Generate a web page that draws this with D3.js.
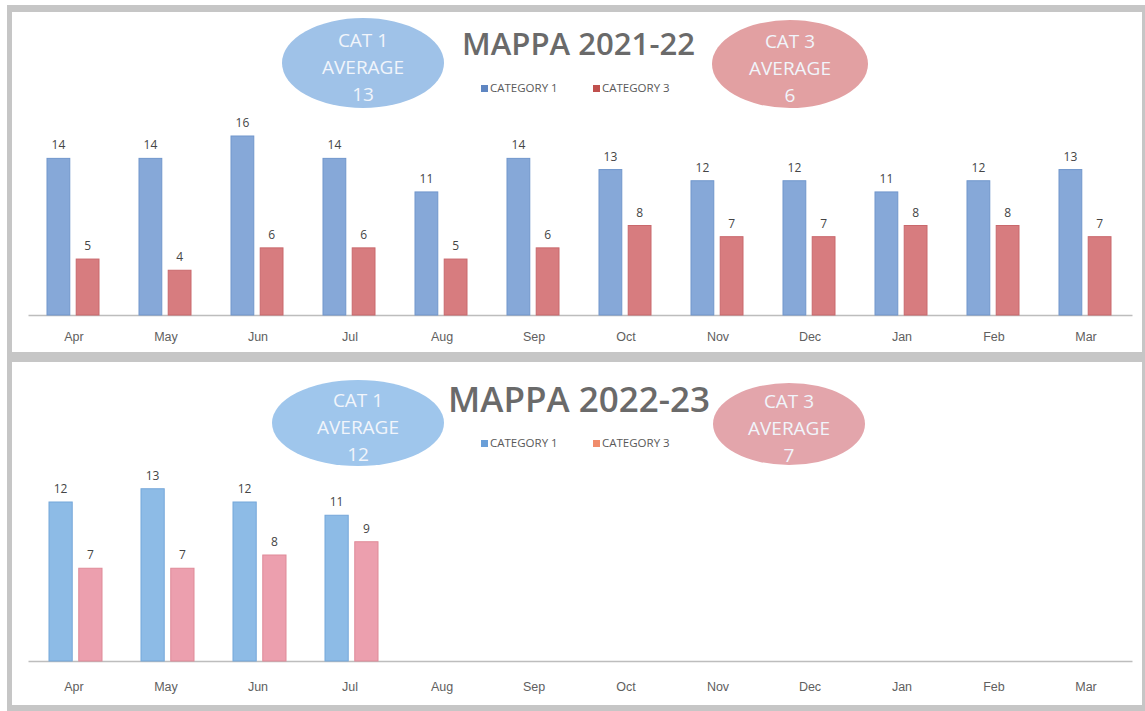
<!DOCTYPE html>
<html>
<head>
<meta charset="utf-8">
<script src="https://cdn.jsdelivr.net/npm/d3@7"></script>
<style>
  html, body { margin: 0; padding: 0; background: #fff; }
  svg { display: block; font-family: "Open Sans", "Noto Sans", sans-serif; }
</style>
</head>
<body>
<svg id="vis" width="1145" height="711"></svg>
<script>
// chart data
const months = ["Apr", "May", "Jun", "Jul", "Aug", "Sep", "Oct", "Nov", "Dec", "Jan", "Feb", "Mar"];
const series = ["CATEGORY 1", "CATEGORY 3"];

const cat1_2122 = [14, 14, 16, 14, 11, 14, 13, 12, 12, 11, 12, 13];
const cat3_2122 = [5, 4, 6, 6, 5, 6, 8, 7, 7, 8, 8, 7];
const avg_2122 = [13, 6];

const cat1_2223 = [12, 13, 12, 11];
const cat3_2223 = [7, 7, 8, 9];
const avg_2223 = [12, 7];

const svg = d3.select('#vis');
const WIDTH = 1145;
const HEIGHT = 711;

// grey frame behind both panels
svg.append("rect").attr("x", 0).attr("y", 0).attr("width", WIDTH).attr("height", HEIGHT).attr("fill", "#fff");
svg.append("rect").attr("x", 7).attr("y", 5).attr("width", WIDTH - 7).attr("height", HEIGHT - 5).attr("fill", "#c6c6c6");
svg.append("rect").attr("x", 12).attr("y", 12).attr("width", 1130).attr("height", 340).attr("fill", "#fff");
svg.append("rect").attr("x", 12).attr("y", 362).attr("width", 1130).attr("height", 343).attr("fill", "#fff");

function panel(opts) {
    var g = svg.append("g");

    var x = d3.scaleBand()
        .domain(months)
        .range([28, 1132]);

    var x1 = d3.scaleBand()
        .domain(series)
        .range(opts.sub)
        .paddingInner(0.22);

    var y = d3.scaleLinear()
        .domain([0, opts.max])
        .range([opts.base, opts.top]);

    // axis line + month labels
    var axis = g.append("g")
        .attr("transform", "translate(0," + opts.base + ")")
        .call(d3.axisBottom(x).tickSize(0).tickPadding(opts.pad));
    axis.select(".domain").attr("stroke", "#bdbdbd").attr("stroke-width", 1.5);
    axis.selectAll("text")
        .attr("fill", "#606060")
        .style("font-size", "12.5px");

    var rows = [];
    opts.c1.forEach(function (v, i) {
        rows.push({ m: months[i], s: series[0], v: v });
    });
    opts.c3.forEach(function (v, i) {
        rows.push({ m: months[i], s: series[1], v: v });
    });

    g.selectAll(".bar")
        .data(rows)
        .enter().append("rect")
        .attr("class", "bar")
        .attr("x", function (d) { return x(d.m) + x.bandwidth() / 2 + x1(d.s); })
        .attr("y", function (d) { return y(d.v); })
        .attr("width", x1.bandwidth())
        .attr("height", function (d) { return y(0) - y(d.v); })
        .attr("fill", function (d) { return d.s === series[0] ? opts.fill[0] : opts.fill[1]; })
        .attr("stroke", function (d) { return d.s === series[0] ? opts.edge[0] : opts.edge[1]; })
        .attr("stroke-width", 1);

    g.selectAll(".val")
        .data(rows)
        .enter().append("text")
        .attr("class", "val")
        .attr("x", function (d) { return x(d.m) + x.bandwidth() / 2 + x1(d.s) + x1.bandwidth() / 2; })
        .attr("y", function (d) { return y(d.v) - 9; })
        .attr("text-anchor", "middle")
        .attr("fill", "#454545")
        .style("font-size", "12px")
        .text(function (d) { return d.v; });

    // title
    g.append("text")
        .attr("x", opts.title[1])
        .attr("y", opts.title[2])
        .attr("textLength", opts.title[3])
        .attr("lengthAdjust", "spacingAndGlyphs")
        .attr("fill", "#6a6a6a")
        .style("font-size", opts.title[4] + "px")
        .style("font-weight", "600")
        .text(opts.title[0]);

    // legend
    var leg = g.append("g").attr("transform", "translate(" + opts.legend[0] + "," + opts.legend[1] + ")");
    series.forEach(function (s, i) {
        var lx = i * 112;
        leg.append("rect")
            .attr("x", lx).attr("y", -7)
            .attr("width", 7).attr("height", 7)
            .attr("fill", opts.key[i]);
        leg.append("text")
            .attr("x", lx + 9).attr("y", 0)
            .attr("fill", "#595959")
            .style("font-size", "11.5px")
            .text(s);
    });

    // average bubbles
    opts.bubbles.forEach(function (b, i) {
        g.append("ellipse")
            .attr("cx", b[0]).attr("cy", b[1])
            .attr("rx", b[2]).attr("ry", b[3])
            .attr("fill", opts.bubbleFill[i]);
        var lines = [i === 0 ? "CAT 1" : "CAT 3", "AVERAGE", String(opts.avg[i])];
        lines.forEach(function (t, j) {
            g.append("text")
                .attr("x", b[0])
                .attr("y", b[1] - 16 + j * 27)
                .attr("text-anchor", "middle")
                .attr("fill", "#f1f5fb")
                .style("font-size", "19px")
                .text(t);
        });
    });
}

panel({
    c1: cat1_2122, c3: cat3_2122, avg: avg_2122,
    max: 16, base: 315, top: 136, pad: 17,
    sub: [-27, 25],
    fill: ["#86a8d8", "#d77c7f"],
    edge: ["#7096cc", "#c9686c"],
    key: ["#5f86c2", "#c0504d"],
    title: ["MAPPA 2021-22", 462, 55, 233, 31],
    legend: [481, 92],
    bubbles: [[363, 63, 81, 45], [790, 64, 78, 44]],
    bubbleFill: ["#9fc2e8", "#e2a0a2"]
});

panel({
    c1: cat1_2223, c3: cat3_2223, avg: avg_2223,
    max: 13, base: 661, top: 488.75, pad: 21,
    sub: [-25, 28],
    fill: ["#8dbbe6", "#ec9fae"],
    edge: ["#75a7d9", "#df8a98"],
    key: ["#6a9fd8", "#f08c6c"],
    title: ["MAPPA 2022-23", 448, 412, 262, 34],
    legend: [481, 447],
    bubbles: [[358, 423, 86, 43], [789, 424, 76, 41]],
    bubbleFill: ["#9fc6ec", "#e3a5ab"]
});
</script>
</body>
</html>
